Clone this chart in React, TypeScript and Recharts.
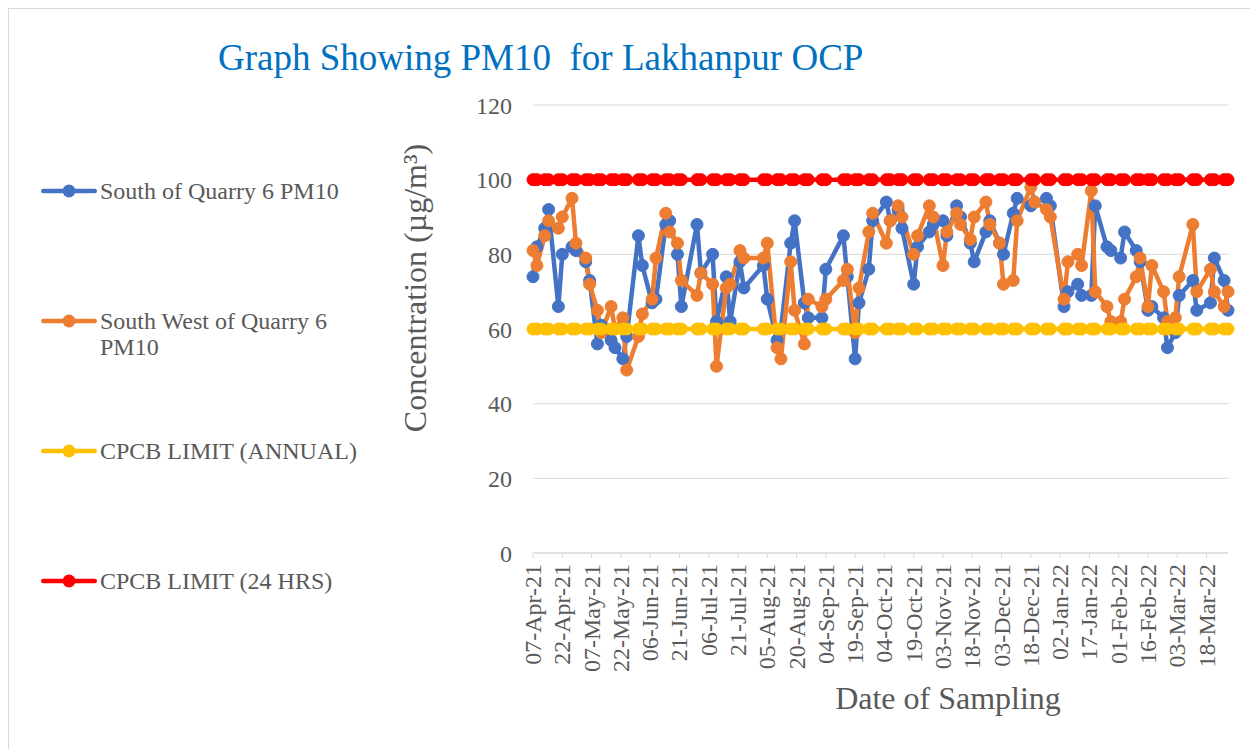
import { LineChart, Line, XAxis, YAxis, CartesianGrid, Legend } from 'recharts';

// sampling dates (two samples a week, 07-Apr-21 .. 29-Mar-22)
const sampleDates = [
  '2021-04-07', '2021-04-09', '2021-04-13', '2021-04-15', '2021-04-20', '2021-04-22', '2021-04-27', '2021-04-29',
  '2021-05-04', '2021-05-06', '2021-05-10', '2021-05-12', '2021-05-17', '2021-05-19', '2021-05-23', '2021-05-25',
  '2021-05-31', '2021-06-02', '2021-06-07', '2021-06-09', '2021-06-14', '2021-06-16', '2021-06-20', '2021-06-22',
  '2021-06-30', '2021-07-02', '2021-07-08', '2021-07-10', '2021-07-15', '2021-07-17', '2021-07-22', '2021-07-24',
  '2021-08-03', '2021-08-05', '2021-08-10', '2021-08-12', '2021-08-17', '2021-08-19', '2021-08-24', '2021-08-26',
  '2021-09-02', '2021-09-04', '2021-09-13', '2021-09-15', '2021-09-19', '2021-09-21', '2021-09-26', '2021-09-28',
  '2021-10-05', '2021-10-07', '2021-10-11', '2021-10-13', '2021-10-19', '2021-10-21', '2021-10-27', '2021-10-29',
  '2021-11-03', '2021-11-05', '2021-11-10', '2021-11-12', '2021-11-17', '2021-11-19', '2021-11-25', '2021-11-27',
  '2021-12-02', '2021-12-04', '2021-12-09', '2021-12-11', '2021-12-18', '2021-12-20', '2021-12-26', '2021-12-28',
  '2022-01-04', '2022-01-06', '2022-01-11', '2022-01-13', '2022-01-18', '2022-01-20', '2022-01-26', '2022-01-28',
  '2022-02-02', '2022-02-04', '2022-02-10', '2022-02-12', '2022-02-16', '2022-02-18', '2022-02-24', '2022-02-26',
  '2022-03-02', '2022-03-04', '2022-03-11', '2022-03-13', '2022-03-20', '2022-03-22', '2022-03-27', '2022-03-29',
];

const southPm10 = [
  74, 82, 87, 92, 66, 80, 82, 81,
  78, 73, 56, 61, 57, 55, 52, 58,
  85, 77, 67, 68, 88, 89, 80, 66,
  88, 75, 80, 62, 74, 62, 78, 71,
  77, 68, 57, 60, 83, 89, 67, 63,
  63, 76, 85, 74, 52, 67, 76, 89,
  94, 89, 92, 87, 72, 82, 86, 88,
  89, 85, 93, 90, 83, 78, 86, 89,
  83, 80, 91, 95, 93, 94, 95, 93,
  66, 70, 72, 69, 69, 93, 82, 81,
  79, 86, 81, 78, 65, 66, 63, 55,
  59, 69, 73, 65, 67, 79, 73, 65,
];

const southWestPm10 = [
  81, 77, 85, 89, 87, 90, 95, 83,
  79, 72, 65, 59, 66, 60, 63, 49,
  58, 64, 68, 79, 91, 86, 83, 73,
  69, 75, 72, 50, 71, 72, 81, 79,
  79, 83, 55, 52, 78, 65, 56, 68,
  66, 68, 73, 76, 59, 71, 86, 91,
  83, 89, 93, 90, 80, 85, 93, 90,
  77, 86, 91, 88, 84, 90, 94, 88,
  83, 72, 73, 89, 98, 94, 92, 90,
  68, 78, 80, 77, 97, 70, 66, 62,
  62, 68, 74, 79, 66, 77, 70, 62,
  63, 74, 88, 70, 76, 70, 66, 70,
];

const annualLimit = 60;
const dailyLimit = 100;
const yTicks = [0, 20, 40, 60, 80, 100, 120];
const tickStepDays = 15;

const SERIF = "'Liberation Serif', 'Times New Roman', serif";
const TEXT = '#595959';
const GRID = '#d9d9d9';
const DAY = 86400000;
const MONTHS = ['Jan', 'Feb', 'Mar', 'Apr', 'May', 'Jun', 'Jul', 'Aug', 'Sep', 'Oct', 'Nov', 'Dec'];

const toTime = (s: string) => {
  const [y, m, d] = s.split('-').map(Number);
  return Date.UTC(y, m - 1, d);
};

const fmtDate = (t: number) => {
  const d = new Date(t);
  return `${String(d.getUTCDate()).padStart(2, '0')}-${MONTHS[d.getUTCMonth()]}-${String(d.getUTCFullYear()).slice(2)}`;
};

const data = sampleDates.map((s, i) => ({
  t: toTime(s),
  south: southPm10[i],
  southWest: southWestPm10[i],
  annual: annualLimit,
  daily: dailyLimit,
}));

const startT = data[0].t;
const endT = data[data.length - 1].t;
const xTicks: number[] = [];
for (let t = startT; t <= endT; t += tickStepDays * DAY) xTicks.push(t);

const series = [
  { key: 'south', name: 'South of Quarry 6 PM10', color: '#4472C4' },
  { key: 'southWest', name: 'South West of Quarry 6 PM10', color: '#ED7D31' },
  { key: 'annual', name: 'CPCB LIMIT (ANNUAL)', color: '#FFC000' },
  { key: 'daily', name: 'CPCB LIMIT (24 HRS)', color: '#FF0000' },
];

const DateTick = ({ x, y, payload }: any) => (
  <text
    x={x + 8}
    y={y}
    transform={`rotate(-90, ${x + 8}, ${y})`}
    textAnchor="end"
    fill={TEXT}
    fontSize={24}
    fontFamily={SERIF}
  >
    {fmtDate(payload.value)}
  </text>
);

// legend keeps the series order (Excel style), not alphabetical
const renderLegend = () => (
  <div style={{ fontFamily: SERIF }}>
    {series.map((s) => (
      <div key={s.key} style={{ display: 'flex', alignItems: 'flex-start', height: 130 }}>
        <svg width={56} height={26} style={{ flex: 'none' }}>
          <line x1={2.25} y1={13} x2={53.75} y2={13} stroke={s.color} strokeWidth={4.5} strokeLinecap="round" />
          <circle cx={28} cy={13} r={6.5} fill={s.color} />
        </svg>
        <span style={{ marginLeft: 3, width: 270, fontSize: 24, lineHeight: '26px', color: TEXT }}>{s.name}</span>
      </div>
    ))}
  </div>
);

export default function App() {
  return (
    <div style={{ position: 'absolute', left: 8, top: 8, width: 1242, height: 741, background: '#fff', fontFamily: SERIF }}>
      <LineChart width={1242} height={741} data={data} margin={{ top: 97, right: 22, bottom: 0, left: 0 }}>
        <CartesianGrid vertical={false} stroke={GRID} />
        <XAxis
          type="number"
          dataKey="t"
          domain={[startT, endT]}
          ticks={xTicks}
          interval={0}
          height={196}
          tick={<DateTick />}
          tickSize={5}
          tickMargin={6}
          tickLine={{ stroke: GRID }}
          axisLine={{ stroke: GRID }}
          label={{
            content: () => (
              <text x={940} y={701} textAnchor="middle" fontSize={32} fill={TEXT} fontFamily={SERIF}>
                Date of Sampling
              </text>
            ),
          }}
        />
        <YAxis
          width={525}
          domain={[0, 120]}
          ticks={yTicks}
          interval={0}
          axisLine={false}
          tickLine={false}
          tickSize={0}
          tickMargin={21}
          tick={{ fill: TEXT, fontSize: 24, fontFamily: SERIF }}
          label={{
            content: () => (
              <text
                x={418}
                y={280}
                transform="rotate(-90, 418, 280)"
                textAnchor="middle"
                fontSize={32}
                fill={TEXT}
                fontFamily={SERIF}
              >
                Concentration (µg/m³)
              </text>
            ),
          }}
        />
        <Legend
          layout="vertical"
          align="center"
          verticalAlign="middle"
          wrapperStyle={{ left: 33, top: 170, width: 340 }}
          content={renderLegend}
        />
        {series.map((s) => (
          <Line
            key={s.key}
            type="linear"
            dataKey={s.key}
            name={s.name}
            stroke={s.color}
            strokeWidth={4.5}
            strokeLinejoin="round"
            dot={{ r: 6, fill: s.color, stroke: s.color, strokeWidth: 1 }}
            activeDot={false}
            isAnimationActive={false}
          />
        ))}
      </LineChart>
      <div
        style={{
          position: 'absolute',
          left: 210,
          top: 31,
          fontSize: 37,
          lineHeight: 1,
          color: '#0070C0',
          whiteSpace: 'pre',
        }}
      >
        Graph Showing PM10  for Lakhanpur OCP
      </div>
      <div
        style={{
          position: 'absolute',
          inset: 0,
          borderLeft: `1px solid ${GRID}`,
          borderTop: `1px solid ${GRID}`,
          pointerEvents: 'none',
        }}
      />
    </div>
  );
}
